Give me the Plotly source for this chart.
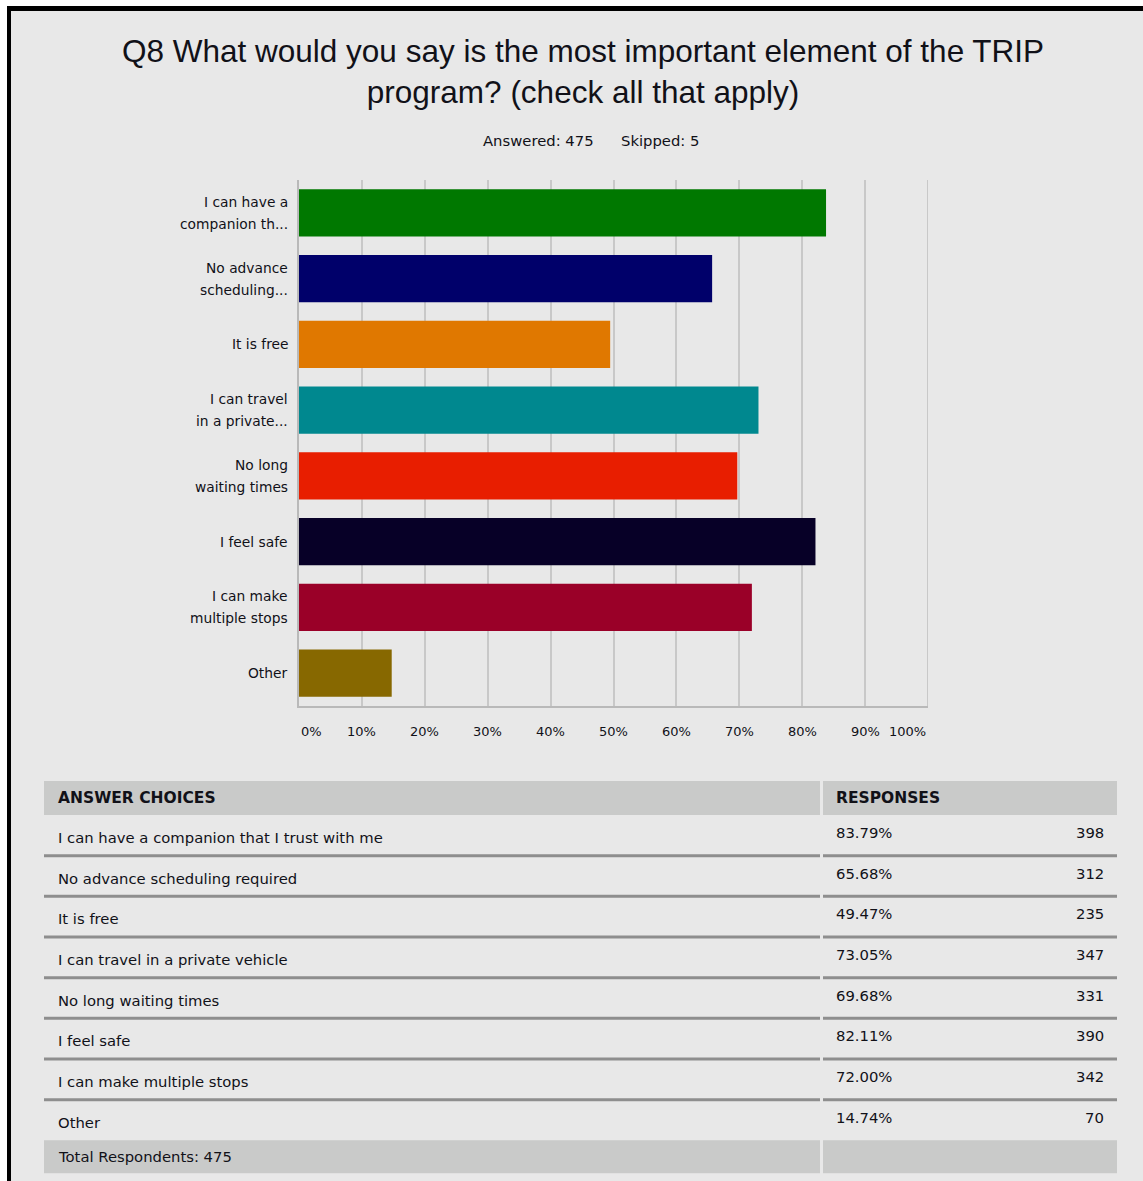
import plotly.graph_objects as go

W, H = 1143, 1181

# ---------------- data ----------------
categories = [
    "I can have a companion that I trust with me",
    "No advance scheduling required",
    "It is free",
    "I can travel in a private vehicle",
    "No long waiting times",
    "I feel safe",
    "I can make multiple stops",
    "Other",
]
axis_labels = [
    ["I can have a", "companion th..."],
    ["No advance", "scheduling..."],
    ["It is free"],
    ["I can travel", "in a private..."],
    ["No long", "waiting times"],
    ["I feel safe"],
    ["I can make", "multiple stops"],
    ["Other"],
]
percents = [83.79, 65.68, 49.47, 73.05, 69.68, 82.11, 72.00, 14.74]
counts = [398, 312, 235, 347, 331, 390, 342, 70]
bar_colors = ["#007800", "#00006a", "#e07800", "#00888f",
              "#e81e00", "#070027", "#9a0028", "#876800"]
x_ticks = [0, 10, 20, 30, 40, 50, 60, 70, 80, 90, 100]
x_tick_labels = ["0%", "10%", "20%", "30%", "40%", "50%", "60%", "70%", "80%", "90%", "100%"]
title_text = "Q8 What would you say is the most important element of the TRIP<br>program? (check all that apply)"
answered, skipped = 475, 5
total_respondents = 475

BG = "#e8e8e8"
TXT = "#111118"
TITLE_FONT = "Liberation Sans, Arial, sans-serif"
FONT = "DejaVu Sans, Verdana, sans-serif"


def px(x):
    return x / W


def py(y):
    return 1 - y / H


# plot area in pixels
PL, PR, PT, PB = 299, 928, 180, 706

fig = go.Figure()
fig.add_trace(go.Bar(
    x=percents,
    y=list(range(len(categories))),
    orientation="h",
    marker=dict(color=bar_colors, line=dict(width=0)),
    width=0.72,
    hovertext=categories,
    showlegend=False,
))

shapes = []
annotations = []

# frame: white outside, black border top/left, gray inside
shapes.append(dict(type="rect", xref="paper", yref="paper", layer="below",
                   x0=px(7), x1=px(W + 10), y0=py(6), y1=py(H + 10),
                   fillcolor="#000000", line=dict(width=0)))
shapes.append(dict(type="rect", xref="paper", yref="paper", layer="below",
                   x0=px(11), x1=px(W + 10), y0=py(11), y1=py(H + 10),
                   fillcolor=BG, line=dict(width=0)))

# gridline at the right end of the range (100%)
shapes.append(dict(type="line", xref="x", yref="paper", layer="below",
                   x0=x_ticks[-1], x1=x_ticks[-1], y0=py(PB), y1=py(PT),
                   line=dict(color="#c8c8c8", width=2)))

# title
annotations.append(dict(xref="paper", yref="paper", x=px(583), y=py(71),
                        text=title_text, showarrow=False,
                        xanchor="center", yanchor="middle",
                        font=dict(family=TITLE_FONT, size=31.5, color=TXT)))
annotations.append(dict(xref="paper", yref="paper", x=px(596), y=py(140),
                        text=f"Answered: {answered}", showarrow=False,
                        xanchor="right", yanchor="middle",
                        font=dict(family=FONT, size=14.8, color=TXT)))
annotations.append(dict(xref="paper", yref="paper", x=px(619), y=py(140),
                        text=f"Skipped: {skipped}", showarrow=False,
                        xanchor="left", yanchor="middle",
                        font=dict(family=FONT, size=14.8, color=TXT)))

# y-axis labels (two lines, 22px line spacing)
for i, lines in enumerate(axis_labels):
    n = len(lines)
    for j, line in enumerate(lines):
        annotations.append(dict(xref="paper", yref="y", x=px(290), y=i,
                                yshift=-(j - (n - 1) / 2) * 22,
                                text=line, showarrow=False,
                                xanchor="right", yanchor="middle",
                                font=dict(family=FONT, size=13.8, color=TXT)))

# x tick labels
for v, lab in zip(x_ticks, x_tick_labels):
    anchor = "left" if v == x_ticks[0] else ("right" if v == x_ticks[-1] else "center")
    annotations.append(dict(xref="x", yref="paper", x=v, y=py(731),
                            text=lab, showarrow=False,
                            xanchor=anchor, yanchor="middle",
                            font=dict(family=FONT, size=13, color=TXT)))

# ---------------- table ----------------
TL, C1R, C2L, TR = 44, 820, 823, 1117
HEAD_T, HEAD_B = 781, 815
ROW_H = 40.67
HEADER_BG = "#c9cac9"
SEP = "#8e8e8e"

shapes.append(dict(type="rect", xref="paper", yref="paper",
                   x0=px(TL), x1=px(C1R), y0=py(HEAD_T), y1=py(HEAD_B),
                   fillcolor=HEADER_BG, line=dict(width=0)))
shapes.append(dict(type="rect", xref="paper", yref="paper",
                   x0=px(C2L), x1=px(TR), y0=py(HEAD_T), y1=py(HEAD_B),
                   fillcolor=HEADER_BG, line=dict(width=0)))
annotations.append(dict(xref="paper", yref="paper", x=px(56), y=py(798),
                        text="<b>ANSWER CHOICES</b>", showarrow=False,
                        xanchor="left", yanchor="middle",
                        font=dict(family=FONT, size=15.5, color=TXT)))
annotations.append(dict(xref="paper", yref="paper", x=px(834), y=py(798),
                        text="<b>RESPONSES</b>", showarrow=False,
                        xanchor="left", yanchor="middle",
                        font=dict(family=FONT, size=15.5, color=TXT)))

for i, (cat, pct, cnt) in enumerate(zip(categories, percents, counts)):
    top = HEAD_B + i * ROW_H
    annotations.append(dict(xref="paper", yref="paper", x=px(56), y=py(top + 22.5),
                            text=cat, showarrow=False,
                            xanchor="left", yanchor="middle",
                            font=dict(family=FONT, size=14.8, color=TXT)))
    annotations.append(dict(xref="paper", yref="paper", x=px(834), y=py(top + 17.5),
                            text=f"{pct:.2f}%", showarrow=False,
                            xanchor="left", yanchor="middle",
                            font=dict(family=FONT, size=14.8, color=TXT)))
    annotations.append(dict(xref="paper", yref="paper", x=px(1106), y=py(top + 17.5),
                            text=str(cnt), showarrow=False,
                            xanchor="right", yanchor="middle",
                            font=dict(family=FONT, size=14.8, color=TXT)))
    if i < len(categories) - 1:
        sy = top + ROW_H
        for x0, x1 in ((TL, C1R), (C2L, TR)):
            shapes.append(dict(type="rect", xref="paper", yref="paper",
                               x0=px(x0), x1=px(x1), y0=py(sy - 1.5), y1=py(sy + 1.5),
                               fillcolor=SEP, line=dict(width=0)))

TOT_T = HEAD_B + len(categories) * ROW_H
TOT_B = TOT_T + 33
for x0, x1 in ((TL, C1R), (C2L, TR)):
    shapes.append(dict(type="rect", xref="paper", yref="paper",
                       x0=px(x0), x1=px(x1), y0=py(TOT_T), y1=py(TOT_B),
                       fillcolor=HEADER_BG, line=dict(width=0)))
annotations.append(dict(xref="paper", yref="paper", x=px(56), y=py((TOT_T + TOT_B) / 2),
                        text=f"Total Respondents: {total_respondents}", showarrow=False,
                        xanchor="left", yanchor="middle",
                        font=dict(family=FONT, size=14.8, color=TXT)))

fig.update_layout(
    width=W, height=H,
    margin=dict(l=0, r=0, t=0, b=0),
    paper_bgcolor="#ffffff",
    plot_bgcolor=BG,
    bargap=0.28,
    shapes=shapes,
    annotations=annotations,
    xaxis=dict(domain=[px(PL), px(PR)], range=[0, 100], tickvals=x_ticks,
               showticklabels=False, showgrid=True, gridcolor="#c8c8c8", gridwidth=2,
               showline=True, linecolor="#b9b9b9", linewidth=2, zeroline=False,
               fixedrange=True),
    yaxis=dict(domain=[py(PB), py(PT)], range=[len(categories) - 0.5, -0.5],
               tickvals=list(range(len(categories))), showticklabels=False,
               showgrid=False, showline=True, linecolor="#b9b9b9", linewidth=2,
               zeroline=False, fixedrange=True),
)

fig.write_html("out.html")
